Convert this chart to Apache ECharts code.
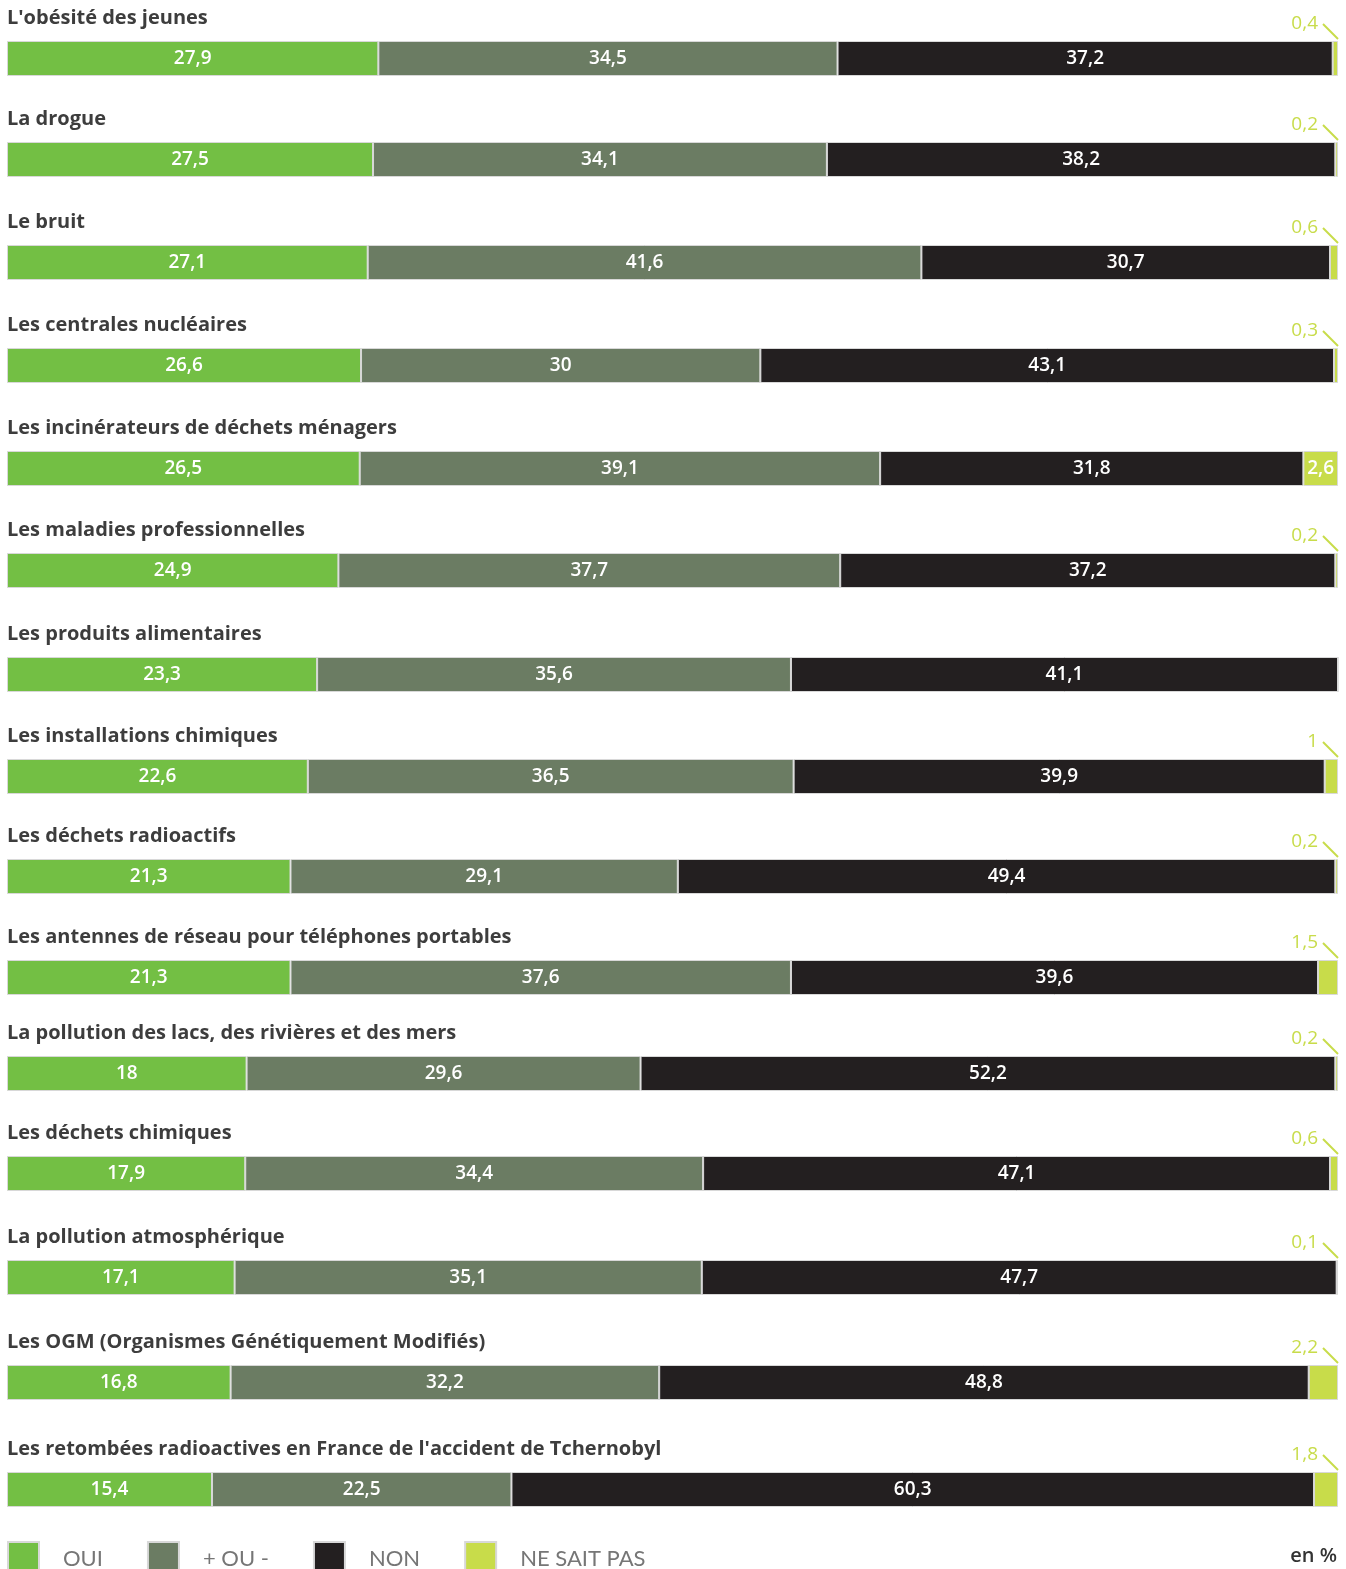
<!DOCTYPE html>
<html>
<head>
<meta charset="utf-8">
<script src="https://cdn.jsdelivr.net/npm/echarts@6/dist/echarts.min.js"></script>
<style>
html,body{margin:0;padding:0;background:#fff;}
#chart{width:1346px;height:1569px;}
</style>
</head>
<body>
<div id="chart"></div>
<script>
// ---- Data ----
const categories = [
  "L'obésité des jeunes",
  "La drogue",
  "Le bruit",
  "Les centrales nucléaires",
  "Les incinérateurs de déchets ménagers",
  "Les maladies professionnelles",
  "Les produits alimentaires",
  "Les installations chimiques",
  "Les déchets radioactifs",
  "Les antennes de réseau pour téléphones portables",
  "La pollution des lacs, des rivières et des mers",
  "Les déchets chimiques",
  "La pollution atmosphérique",
  "Les OGM (Organismes Génétiquement Modifiés)",
  "Les retombées radioactives en France de l'accident de Tchernobyl"
];
const oui         = [27.9, 27.5, 27.1, 26.6, 26.5, 24.9, 23.3, 22.6, 21.3, 21.3, 18, 17.9, 17.1, 16.8, 15.4];
const plusOuMoins = [34.5, 34.1, 41.6, 30, 39.1, 37.7, 35.6, 36.5, 29.1, 37.6, 29.6, 34.4, 35.1, 32.2, 22.5];
const non         = [37.2, 38.2, 30.7, 43.1, 31.8, 37.2, 41.1, 39.9, 49.4, 39.6, 52.2, 47.1, 47.7, 48.8, 60.3];
const nsp         = [0.4, 0.2, 0.6, 0.3, 2.6, 0.2, 0, 1, 0.2, 1.5, 0.2, 0.6, 0.1, 2.2, 1.8];
const seriesNames = ['OUI', '+ OU -', 'NON', 'NE SAIT PAS'];
const unitLabel = 'en %';

// ---- Layout / style ----
const barTops = [41, 142, 245, 348, 451, 553, 657, 759, 859, 960, 1056, 1156, 1260, 1365, 1472];
const barH = 35;
const gridLeft = 7, gridWidth = 1331;
const colors = ['#73bf44', '#6b7c63', '#231f20', '#c8dc4a'];
const FONT = '"Open Sans", "Noto Sans", sans-serif';
const LFONT = 'Lato, "Noto Sans", sans-serif';
const fmt = v => String(v).replace('.', ',');

const chart = echarts.init(document.getElementById('chart'), null, {renderer: 'canvas'});

const grids = [], xAxes = [], yAxes = [], series = [], titles = [];
const valuesBySeries = [oui, plusOuMoins, non, nsp];

categories.forEach((cat, i) => {
  grids.push({left: gridLeft, width: gridWidth, top: barTops[i], height: barH});
  xAxes.push({type: 'value', gridIndex: i, min: 0, max: 100, show: false});
  yAxes.push({type: 'category', gridIndex: i, data: [cat], show: false});
  titles.push({
    text: cat, left: 7, top: barTops[i] - 37, padding: 0,
    textStyle: {fontFamily: FONT, fontSize: 20, fontWeight: 'bold', color: '#3d3d3d', lineHeight: 28}
  });
  valuesBySeries.forEach((vals, s) => {
    const v = vals[i];
    const isNsp = s === 3;
    const inside = !isNsp || v * gridWidth / 100 > 32;
    let label;
    if (v <= 0) {
      label = {show: false};
    } else if (inside) {
      label = {show: true, position: 'inside', color: '#ffffff', fontFamily: FONT,
               fontSize: 19, fontWeight: 600, formatter: p => fmt(p.value)};
    } else {
      label = {show: true, position: ['100%', 0], align: 'right', verticalAlign: 'middle',
               offset: [-20, -17], color: '#c8dc4a', fontFamily: FONT, fontSize: 19,
               fontWeight: 500, formatter: p => fmt(p.value)};
    }
    series.push({
      name: seriesNames[s], type: 'bar', stack: 'row' + i,
      xAxisIndex: i, yAxisIndex: i, barWidth: barH,
      itemStyle: {color: colors[s], borderColor: '#d8d8d8', borderWidth: 1},
      label: label,
      silent: true,
      animation: false,
      data: [v]
    });
  });
});

chart.setOption({
  animation: false,
  color: colors,
  title: titles,
  grid: grids,
  xAxis: xAxes,
  yAxis: yAxes,
  legend: {
    data: seriesNames, left: 7, top: 1541, icon: 'rect', padding: 0,
    itemWidth: 31, itemHeight: 34, itemGap: 44,
    textStyle: {fontFamily: LFONT, fontSize: 22, color: '#767676', padding: [0, 0, 0, 19]}
  },
  series: series
});

// Leader lines for outside NSP labels, positioned through the axes
const graphics = [];
categories.forEach((cat, i) => {
  const v = nsp[i];
  if (v > 0 && !(v * gridWidth / 100 > 32)) {
    const p = chart.convertToPixel({gridIndex: i}, [100, cat]);
    const top = p[1] - barH / 2;
    graphics.push({
      type: 'line', silent: true,
      shape: {x1: p[0] - 15, y1: top - 17, x2: p[0], y2: top - 2},
      style: {stroke: '#c8dc4a', lineWidth: 2}
    });
  }
});
graphics.push({
  type: 'text', right: 9, top: 1546,
  style: {text: unitLabel, font: '600 20px ' + FONT, fill: '#333333'}
});
chart.setOption({graphic: graphics});
</script>
</body>
</html>
